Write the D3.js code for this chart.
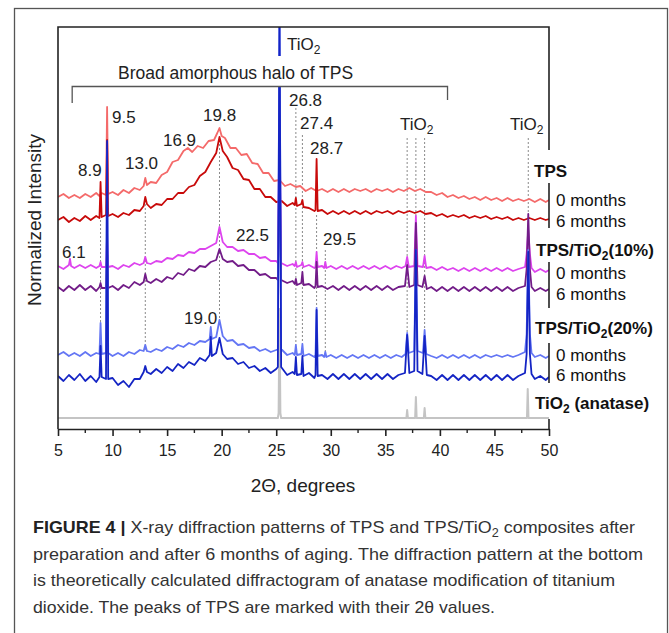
<!DOCTYPE html>
<html><head><meta charset="utf-8">
<script src="https://cdn.jsdelivr.net/npm/d3@7"></script>
<style>body{margin:0;background:#fff}svg{display:block;font-family:"Liberation Sans",Arial,sans-serif}</style>
</head><body><svg id="c" width="669" height="633"></svg>
<script>
// ---- data: [2theta, normalized intensity (a.u., stacked with offsets)] ----
const tps0 = [[5,232],[5.5,235],[6,231],[6.5,234],[7,231],[7.5,235],[8,232],[8.5,236],[8.8,233],[9.0,236],[9.4,234],[9.5,322],[9.6,235],[10,237],[10.5,234],[11,239],[11.5,236],[12,241],[12.5,239],[12.85,243],[13.0,251],[13.15,244],[13.5,247],[14,246],[14.5,254],[15,257],[15.5,267],[16,269],[16.5,278],[16.9,281],[17.3,277],[17.8,283],[18.3,281],[18.8,288],[19.3,289],[19.6,296],[19.8,301],[20.0,293],[20.3,291],[20.8,281],[21.3,281],[21.8,274],[22.3,275],[22.8,266],[23.3,265],[23.8,256],[24.3,256],[24.8,248],[25.3,249],[25.8,243],[26.3,245],[26.8,242],[27.2,243],[27.7,238],[28.2,241],[28.7,238],[29.2,240],[29.7,237],[30.2,240],[30.7,237],[31.2,240],[31.7,237],[32.2,240],[32.7,238],[33.2,240],[33.7,237],[34.2,240],[34.7,238],[35.2,240],[35.7,237],[36.2,240],[36.7,238],[37.2,241],[37.7,238],[38.2,240],[38.7,237],[39.2,237],[39.7,234],[40.2,236],[40.7,232],[41.2,234],[41.7,231],[42.2,233],[42.7,230],[43.2,232],[43.7,229],[44.2,232],[44.7,229],[45.2,231],[45.7,228],[46.2,231],[46.7,228],[47.2,230],[47.7,228],[48.2,230],[48.7,227],[49.2,230],[49.7,227],[50,229]];
const tps6 = [[5,209],[5.5,212],[6,207],[6.5,211],[7,208],[7.5,213],[8,209],[8.5,213],[8.8,211],[8.9,247],[9.0,212],[9.4,214],[9.5,289],[9.6,213],[10,215],[10.5,212],[11,216],[11.5,214],[12,219],[12.5,218],[12.85,223],[13.0,232],[13.15,225],[13.5,221],[14,225],[14.5,224],[15,230],[15.5,230],[16,236],[16.5,236],[17,242],[17.5,244],[18,253],[18.5,257],[19,267],[19.5,276],[19.8,292],[20.1,278],[20.5,272],[21,261],[21.5,259],[22,250],[22.5,249],[23,240],[23.5,240],[24,232],[24.5,232],[25,227],[25.5,228],[26,223],[26.5,226],[26.7,224],[26.8,231],[26.9,223],[27.3,225],[27.4,229],[27.5,222],[28,221],[28.5,218],[28.6,219],[28.7,270],[28.8,218],[29.2,219],[29.7,215],[30.2,218],[30.7,215],[31.2,218],[31.7,215],[32.2,218],[32.7,215],[33.2,218],[33.7,215],[34.2,218],[34.7,216],[35.2,218],[35.7,215],[36.2,218],[36.7,216],[37.2,218],[37.7,216],[38.2,218],[38.7,215],[39.2,216],[39.7,213],[40.2,215],[40.7,212],[41.2,214],[41.7,212],[42.2,214],[42.7,211],[43.2,213],[43.7,211],[44.2,213],[44.7,210],[45.2,212],[45.7,210],[46.2,212],[46.7,209],[47.2,211],[47.7,209],[48.2,211],[48.7,209],[49.2,211],[49.7,209],[50,210]];
const ti10_0 = [[5,163],[5.5,160],[6,164],[6.1,170],[6.2,163],[6.5,161],[7,164],[7.5,161],[8,164],[8.5,161],[8.8,163],[8.9,167],[9.0,162],[9.4,162],[9.5,194],[9.6,162],[10,163],[10.5,160],[11,164],[11.5,162],[12,166],[12.5,164],[12.85,166],[13.0,172],[13.15,166],[13.5,165],[14,168],[14.5,167],[15,171],[15.5,170],[16,174],[16.5,173],[17,177],[17.5,176],[18,180],[18.5,180],[19,183],[19.5,186],[19.8,202],[20.1,187],[20.5,182],[21,182],[21.5,178],[22,179],[22.5,175],[23,175],[23.5,171],[24,172],[24.5,168],[25,168],[25.15,166],[25.3,309],[25.45,166],[26,163],[26.5,165],[26.7,163],[26.8,167],[26.9,162],[27.3,164],[27.4,167],[27.5,162],[28,164],[28.5,161],[28.6,162],[28.7,177],[28.8,162],[29.2,163],[29.4,161],[29.5,167],[29.6,161],[30,163],[30.5,160],[31,163],[31.5,160],[32,163],[32.5,160],[33,163],[33.5,160],[34,163],[34.5,160],[35,163],[35.5,160],[36,163],[36.5,161],[36.85,163],[37.0,172],[37.15,162],[37.65,163],[37.8,213],[37.95,163],[38.45,162],[38.6,173],[38.75,161],[39.2,162],[39.7,159],[40.2,162],[40.7,159],[41.2,161],[41.7,158],[42.2,161],[42.7,158],[43.2,161],[43.7,158],[44.2,161],[44.7,158],[45.2,161],[45.7,158],[46.2,161],[46.7,158],[47.2,160],[47.8,162],[47.95,175],[48.1,199],[48.25,175],[48.4,161],[48.7,157],[49.2,160],[49.7,157],[50,159]];
const ti10_6 = [[5,142],[5.5,138],[6,143],[6.5,139],[7,144],[7.5,139],[8,143],[8.5,138],[8.8,142],[8.9,146],[9.0,141],[9.4,141],[9.5,179],[9.6,141],[10,143],[10.5,139],[11,144],[11.5,141],[12,147],[12.5,144],[12.85,147],[13.0,155],[13.15,148],[13.5,146],[14,150],[14.5,147],[15,152],[15.5,150],[16,156],[16.5,154],[17,160],[17.5,158],[18,163],[18.5,162],[19,167],[19.5,169],[19.8,180],[20.1,170],[20.5,167],[21,168],[21.5,163],[22,164],[22.5,159],[23,159],[23.5,154],[24,155],[24.5,151],[25,151],[25.15,149],[25.3,289],[25.45,149],[26,146],[26.5,148],[26.7,145],[26.8,150],[26.9,144],[27.3,146],[27.4,157],[27.5,144],[28,145],[28.5,141],[28.6,143],[28.7,167],[28.8,142],[29.2,143],[29.7,140],[30.2,143],[30.7,139],[31.2,143],[31.7,139],[32.2,143],[32.7,139],[33.2,143],[33.7,139],[34.2,143],[34.7,139],[35.2,143],[35.7,139],[36.2,142],[36.8,143],[37.0,164],[37.2,142],[37.65,144],[37.8,206],[37.95,144],[38.4,142],[38.6,153],[38.8,140],[39.2,142],[39.7,138],[40.2,142],[40.7,138],[41.2,142],[41.7,138],[42.2,142],[42.7,138],[43.2,142],[43.7,138],[44.2,142],[44.7,138],[45.2,142],[45.7,138],[46.2,142],[46.7,138],[47.2,141],[47.8,143],[47.95,160],[48.1,215],[48.25,160],[48.4,142],[48.7,138],[49.2,141],[49.7,138],[50,140]];
const ti20_0 = [[5,74],[5.5,77],[6,73],[6.5,76],[7,73],[7.5,77],[8,73],[8.5,76],[8.8,75],[8.9,106],[9.0,75],[9.4,76],[9.5,279],[9.6,76],[10,73],[10.5,76],[11,73],[11.5,77],[12,75],[12.5,79],[12.85,78],[13.0,84],[13.15,78],[13.5,77],[14,80],[14.5,78],[15,82],[15.5,80],[16,84],[16.5,82],[17,86],[17.5,84],[18,88],[18.5,87],[18.9,90],[19.0,102],[19.1,90],[19.5,92],[19.8,109],[20.1,93],[20.5,88],[21,89],[21.5,84],[22,85],[22.5,81],[23,82],[23.5,78],[24,80],[24.5,77],[25,79],[25.15,80],[25.3,420],[25.45,80],[26,74],[26.5,76],[26.7,74],[26.8,84],[26.9,74],[27.3,75],[27.4,85],[27.5,73],[28,75],[28.5,72],[28.6,74],[28.7,121],[28.8,73],[29.2,74],[29.4,72],[29.5,77],[29.6,72],[30,74],[30.5,71],[31,74],[31.5,71],[32,74],[32.5,71],[33,74],[33.5,71],[34,74],[34.5,71],[35,74],[35.5,71],[36,74],[36.5,72],[36.85,75],[37.0,96],[37.15,76],[37.65,78],[37.8,179],[37.95,78],[38.45,76],[38.6,99],[38.75,75],[39.2,73],[39.7,71],[40.2,74],[40.7,71],[41.2,74],[41.7,71],[42.2,74],[42.7,71],[43.2,74],[43.7,71],[44.2,74],[44.7,72],[45.2,74],[45.7,72],[46.2,74],[46.7,72],[47.2,74],[47.8,77],[47.95,95],[48.1,179],[48.25,95],[48.4,76],[48.7,72],[49.2,74],[49.7,71],[50,73]];
const ti20_6 = [[5,53],[5.5,48],[6,54],[6.5,49],[7,55],[7.5,48],[8,53],[8.5,47],[8.8,52],[8.9,83],[9.0,52],[9.4,50],[9.5,288],[9.6,50],[10,51],[10.5,44],[11,48],[11.5,42],[12,50],[12.5,50],[12.85,57],[13.0,63],[13.15,57],[13.5,55],[14,60],[14.5,56],[15,62],[15.5,58],[16,65],[16.5,61],[17,67],[17.5,64],[18,71],[18.5,68],[18.9,74],[19.0,92],[19.1,73],[19.5,76],[19.8,91],[20.1,75],[20.5,70],[21,71],[21.5,65],[22,67],[22.5,61],[23,63],[23.5,58],[24,61],[24.5,56],[25,60],[25.15,62],[25.3,420],[25.45,62],[26,54],[26.5,57],[26.7,55],[26.8,72],[26.9,54],[27.3,55],[27.4,73],[27.5,53],[28,56],[28.5,51],[28.6,54],[28.7,119],[28.8,53],[29.2,54],[29.7,50],[30.2,55],[30.7,50],[31.2,55],[31.7,50],[32.2,55],[32.7,50],[33.2,55],[33.7,50],[34.2,55],[34.7,50],[35.2,55],[35.7,50],[36.2,54],[36.8,56],[37.0,94],[37.2,56],[37.65,58],[37.8,179],[37.95,58],[38.4,55],[38.6,93],[38.8,54],[39.2,53],[39.7,49],[40.2,54],[40.7,49],[41.2,54],[41.7,49],[42.2,54],[42.7,49],[43.2,54],[43.7,49],[44.2,54],[44.7,49],[45.2,54],[45.7,49],[46.2,54],[46.7,49],[47.2,53],[47.8,56],[47.95,75],[48.1,177],[48.25,75],[48.4,55],[48.7,50],[49.2,53],[49.7,49],[50,52]];
const anatase = [[5,11],[25.15,11],[25.22,16],[25.3,120],[25.38,16],[25.45,11],[36.93,11],[37.0,19],[37.07,11],[37.73,11],[37.8,32],[37.87,11],[38.53,11],[38.6,21],[38.67,11],[47.98,11],[48.05,40],[48.12,11],[50,11]];
// dotted peak guides: [2theta, from, to]
const guides = [[8.9,209,106],[13.0,229,77],[19.8,289,107],[26.8,321,84],[27.4,294,85],[28.7,214,121],[29.5,179,77],[37.0,291,96],[37.8,291,213],[38.6,291,99],[48.1,291,215]];
// peak labels: [text, 2theta (left edge), intensity (centre)]
const peakLabels = [["9.5",9.95,312],["8.9",6.83,259],["13.0",11.14,266],["16.9",14.62,289],["19.8",18.29,314],["26.8",26.17,329],["27.4",27.18,306],["28.7",28.1,281],["22.5",21.31,194],["6.1",5.37,177],["29.5",29.29,190],["19.0",16.55,111]];
const tioLabels = [[25.99,385],[36.34,305],[46.43,305]];
const haloRange = [6.3,40.7];
const xTicks = [5,10,15,20,25,30,35,40,45,50];
const xMinor = [7.5,12.5,17.5,22.5,27.5,32.5,37.5,42.5,47.5];
const seriesNames = ["anatase","tps0","tps6","ti10_0","ti10_6","ti20_0","ti20_6"];
const seriesData = [anatase,tps0,tps6,ti10_0,ti10_6,ti20_0,ti20_6];
const seriesColors = ["#c4c4c4","#f46a6a","#c80a0a","#dd44ee","#721c88","#6476f4","#1424c4"];
const captionLines = [
  [["b","FIGURE 4 | "],["n","X-ray diffraction patterns of TPS and TPS/TiO"],["s","2"],["r"," composites after"]],
  [["n","preparation and after 6 months of aging. The diffraction pattern at the bottom"]],
  [["n","is theoretically calculated diffractogram of anatase modification of titanium"]],
  [["n","dioxide. The peaks of TPS are marked with their 2θ values."]]
];

// ---- drawing ----
const svg = d3.select("#c");
const L=58,R=549,T=27,B=429;
const x = d3.scaleLinear().domain([5,50]).range([L,R]);
const y = d3.scaleLinear().domain([0,402]).range([B,T]);

svg.append("rect").attr("x",14.5).attr("y",8.5).attr("width",653).attr("height",660)
  .attr("fill","none").attr("stroke","#555").attr("stroke-width",1.3);

svg.append("clipPath").attr("id","plotclip").append("rect")
  .attr("x",L).attr("y",T).attr("width",R-L).attr("height",B-T);

// guides
svg.append("g").selectAll("line").data(guides).join("line")
  .attr("x1",d=>x(d[0])).attr("x2",d=>x(d[0])).attr("y1",d=>y(d[1])).attr("y2",d=>y(d[2]))
  .attr("stroke","#8a8a8a").attr("stroke-width",1).attr("stroke-dasharray","2,2");

const line = d3.line().x(d=>x(d[0])).y(d=>y(d[1]));
svg.append("g").attr("clip-path","url(#plotclip)").selectAll("path").data(seriesData).join("path")
  .attr("d",line).attr("fill","none")
  .attr("stroke",(d,i)=>seriesColors[i])
  .attr("stroke-width",(d,i)=>i===0?2:1.8).attr("stroke-linejoin","round");

// mask + halo label
svg.append("rect").attr("x",110).attr("y",56).attr("width",255).attr("height",30).attr("fill","#fff");
svg.append("text").attr("x",118).attr("y",79).attr("font-size",17.5).attr("fill","#222").text("Broad amorphous halo of TPS");
svg.append("path").attr("d",`M${x(haloRange[0])},103V86.5H${x(haloRange[1])}V100`)
  .attr("fill","none").attr("stroke","#555").attr("stroke-width",1.3);

// peak labels
svg.append("g").selectAll("text").data(peakLabels).join("text")
  .attr("x",d=>x(d[1])).attr("y",d=>y(d[2])+6).attr("font-size",17).attr("fill","#222").text(d=>d[0]);
const tl = svg.append("g").selectAll("text").data(tioLabels).join("text")
  .attr("x",d=>x(d[0])).attr("y",d=>y(d[1])+6).attr("font-size",17).attr("fill","#222");
tl.append("tspan").text("TiO");
tl.append("tspan").attr("font-size",12).attr("dy",4).text("2");

// axes frame
const ax = "#222";
svg.append("path").attr("d",`M${L},${B}V${T}H${R}V150`).attr("fill","none").attr("stroke",ax).attr("stroke-width",1.6);
[[183,228],[262,308],[343,383],[419,429]].forEach(s=>{
  svg.append("line").attr("x1",R).attr("x2",R).attr("y1",s[0]).attr("y2",s[1]).attr("stroke",ax).attr("stroke-width",1.6);
});
const gx = svg.append("g").attr("transform",`translate(0,${B})`)
  .call(d3.axisBottom(x).tickValues(xTicks).tickSize(7).tickSizeOuter(0).tickPadding(9).tickFormat(d3.format("d")));
gx.select(".domain").attr("stroke",ax).attr("stroke-width",1.6);
gx.selectAll(".tick line").attr("stroke",ax).attr("stroke-width",1.6);
gx.selectAll("text").attr("font-size",16).attr("fill","#222").attr("font-family","Liberation Sans, Arial, sans-serif");
svg.append("g").selectAll("line").data(xMinor).join("line")
  .attr("x1",d=>x(d)).attr("x2",d=>x(d)).attr("y1",B).attr("y2",B+4).attr("stroke",ax).attr("stroke-width",1.4);

svg.append("text").attr("x",303).attr("y",492).attr("text-anchor","middle").attr("font-size",19).attr("fill","#222").text("2Θ, degrees");
svg.append("text").attr("transform","translate(41,220) rotate(-90)").attr("text-anchor","middle").attr("font-size",19).attr("fill","#222").text("Normalized Intensity");

// legend labels
function lab(xp, yp, parts, bold){
  const t = svg.append("text").attr("x",xp).attr("y",yp).attr("font-size",17).attr("fill","#111").attr("font-weight",bold?"bold":null);
  parts.forEach(p=>{
    if(p[0]==="s") t.append("tspan").attr("font-size",12).attr("dy",4).text(p[1]);
    else if(p[0]==="r") t.append("tspan").attr("dy",-4).text(p[1]);
    else t.append("tspan").text(p[1]);
  });
}
lab(534,177,[["n","TPS"]],true);
lab(556,206,[["n","0 months"]]);
lab(556,227,[["n","6 months"]]);
lab(536,256,[["n","TPS/TiO"],["s","2"],["r","(10%)"]],true);
lab(556,279,[["n","0 months"]]);
lab(556,300,[["n","6 months"]]);
lab(535,334,[["n","TPS/TiO"],["s","2"],["r","(20%)"]],true);
lab(556,361,[["n","0 months"]]);
lab(556,381,[["n","6 months"]]);
lab(535,409,[["n","TiO"],["s","2"],["r"," (anatase)"]],true);

// caption
const capW = [602,610,582,462];
captionLines.forEach((ln,i)=>{
  const t = svg.append("text").attr("x",33).attr("y",533+i*26.7).attr("font-size",17).attr("fill","#333")
    .attr("textLength",capW[i]).attr("lengthAdjust","spacingAndGlyphs");
  ln.forEach(p=>{
    const s = t.append("tspan").text(p[1]);
    if(p[0]==="b") s.attr("font-weight","bold").attr("fill","#222");
    if(p[0]==="s") s.attr("font-size",12).attr("dy",4);
    if(p[0]==="r") s.attr("dy",-4);
  });
});
</script></body></html>
